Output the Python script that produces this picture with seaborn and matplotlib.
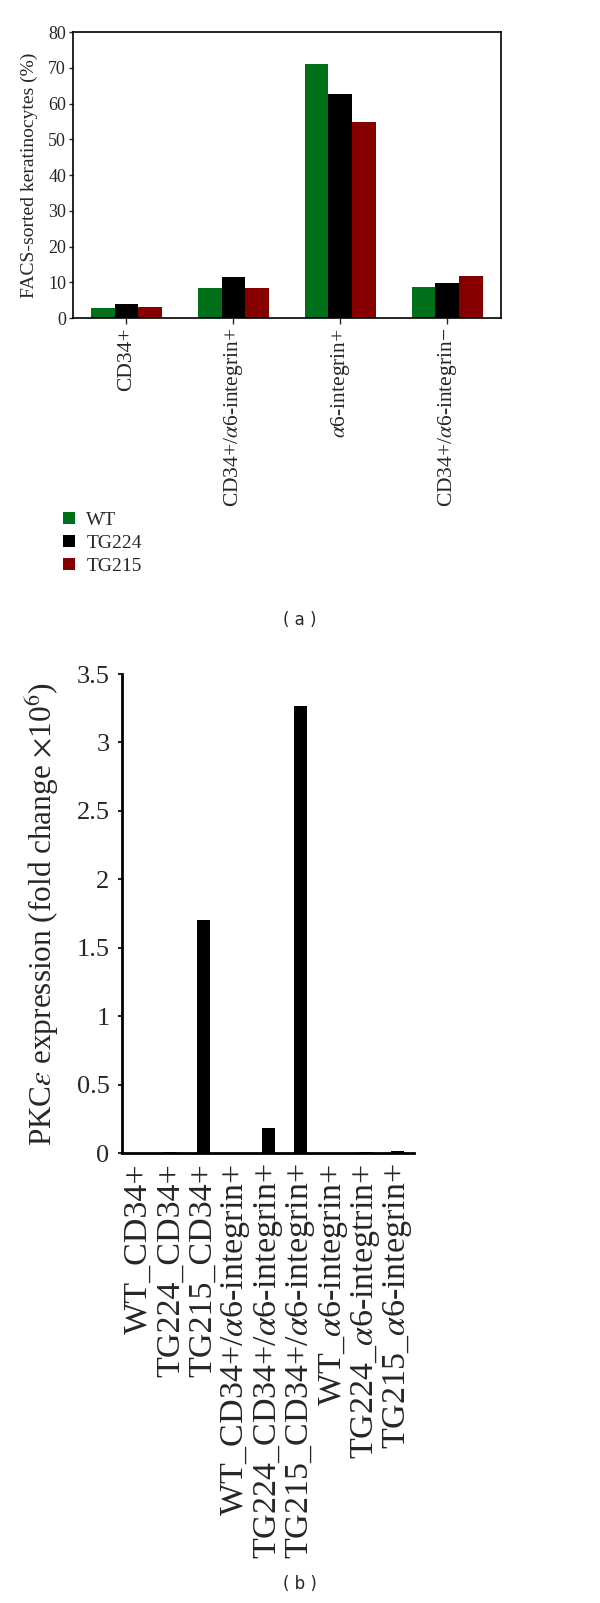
import pandas as pd
import matplotlib
matplotlib.use("Agg")
import matplotlib.pyplot as plt
from matplotlib.patches import Patch
import seaborn as sns

# Dane - panel (a)
populacje = ["CD34+", "CD34+/$\\alpha$6-integrin+", "$\\alpha$6-integrin+",
             "CD34+/$\\alpha$6-integrin\u2212"]
wt = [2.7, 8.4, 71.0, 8.8]
tg224 = [4.0, 11.5, 62.8, 9.8]
tg215 = [3.1, 8.5, 54.8, 11.8]
szczepy = ["WT", "TG224", "TG215"]
kolory = ["#00701a", "#000000", "#870000"]

# Dane - panel (b)
probki = ["WT_CD34+", "TG224_CD34+", "TG215_CD34+",
          "WT_CD34+/$\\alpha$6-integrin+", "TG224_CD34+/$\\alpha$6-integrin+",
          "TG215_CD34+/$\\alpha$6-integrin+", "WT_$\\alpha$6-integrin+",
          "TG224_$\\alpha$6-integtrin+", "TG215_$\\alpha$6-integrin+"]
pkc = [0.0, 0.01, 1.70, 0.0, 0.18, 3.27, 0.0, 0.008, 0.012]

sns.set_style("white")
plt.rcParams["font.family"] = ["Liberation Serif", "DejaVu Serif"]
plt.rcParams["mathtext.fontset"] = "stix"

df_a = pd.DataFrame({
    "populacja": populacje * 3,
    "szczep": [s for s in szczepy for _ in populacje],
    "procent": wt + tg224 + tg215,
})
df_b = pd.DataFrame({"probka": probki, "ekspresja": pkc})

fig = plt.figure(figsize=(6, 16.03), dpi=100)

# (a)
ax1 = fig.add_axes([0.1217, 0.8016, 0.713, 0.1784])
sns.barplot(data=df_a, x="populacja", y="procent", hue="szczep",
            palette=kolory, width=0.67, saturation=1, legend=False,
            linewidth=0, ax=ax1)
ax1.set_ylim(0, 80)
ax1.set_xlim(-0.5, 3.5)
ax1.set_yticks(range(0, 81, 10))
ax1.set_xlabel("")
ax1.set_ylabel("FACS-sorted keratinocytes (%)", fontsize=14, labelpad=7)
ax1.tick_params(axis="y", labelsize=13, direction="out", length=3, width=1, left=True, pad=2)
ax1.tick_params(axis="x", labelsize=15.5, direction="out", length=4, width=1, bottom=True,
                labelrotation=90, pad=3)
for s in ax1.spines.values():
    s.set_color("black")
    s.set_linewidth(1.2)

uchwyty = [Patch(facecolor=c, edgecolor="none") for c in kolory]
fig.legend(uchwyty, szczepy, loc="upper left", bbox_to_anchor=(0.105, 1 - 512 / 1603),
           frameon=False, fontsize=14, handlelength=0.6, handleheight=0.6,
           handletextpad=0.6, labelspacing=0.3, borderaxespad=0, borderpad=0)

fig.text(0.5, 1 - 620 / 1603, "( a )", ha="center", va="center",
         fontsize=12, family="DejaVu Sans")

# (b)
ax2 = fig.add_axes([0.2033, 0.2807, 0.487, 0.2988])
sns.barplot(data=df_b, x="probka", y="ekspresja", color="black",
            width=0.4, saturation=1, linewidth=0, ax=ax2)
ax2.set_ylim(0, 3.5)
ax2.set_xlim(-0.5, 8.5)
ax2.set_yticks([0, 0.5, 1, 1.5, 2, 2.5, 3, 3.5])
ax2.set_yticklabels(["0", "0.5", "1", "1.5", "2", "2.5", "3", "3.5"])
ax2.set_xlabel("")
ax2.set_ylabel("PKC$\\varepsilon$ expression (fold change $\\times$10$^6$)",
               fontsize=22.5, labelpad=11)
ax2.tick_params(axis="y", labelsize=19, direction="out", length=3, width=1.5, left=True, pad=6)
ax2.tick_params(axis="x", labelsize=24.5, bottom=False, labelrotation=90, pad=4)
sns.despine(ax=ax2)
for s in ["left", "bottom"]:
    ax2.spines[s].set_color("black")
    ax2.spines[s].set_linewidth(2)

fig.text(0.5, 1 - 1584 / 1603, "( b )", ha="center", va="center",
         fontsize=12, family="DejaVu Sans")

fig.savefig("out.png", dpi=100)
